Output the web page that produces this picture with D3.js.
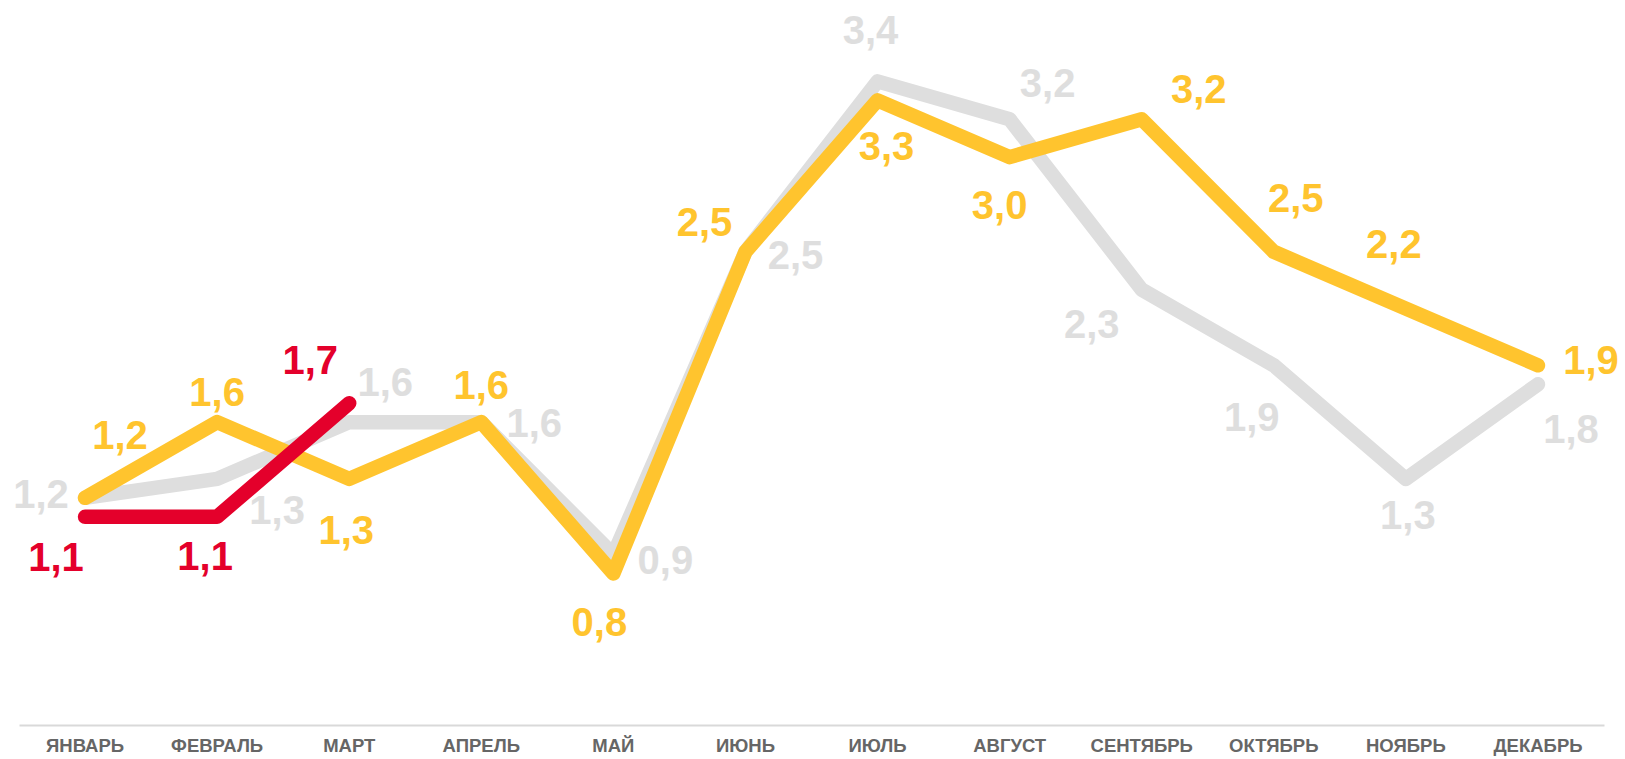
<!DOCTYPE html>
<html>
<head>
<meta charset="utf-8">
<script src="https://cdn.jsdelivr.net/npm/d3@7"></script>
<style>
    body { margin: 0; background: #fff; }
    #chart-area { width: 1625px; height: 759px; }
    .axis text { font-family: "Liberation Sans", Arial, sans-serif; font-weight: bold; }
    .label { font-family: "Liberation Sans", Arial, sans-serif; font-weight: bold; }
</style>
</head>
<body>
<div id="chart-area"></div>
<script>

// months on the x axis
let months = ["ЯНВАРЬ", "ФЕВРАЛЬ", "МАРТ", "АПРЕЛЬ", "МАЙ", "ИЮНЬ",
    "ИЮЛЬ", "АВГУСТ", "СЕНТЯБРЬ", "ОКТЯБРЬ", "НОЯБРЬ", "ДЕКАБРЬ"];

// series values
let greyValues = [1.2, 1.3, 1.6, 1.6, 0.9, 2.5, 3.4, 3.2, 2.3, 1.9, 1.3, 1.8];
let yellowValues = [1.2, 1.6, 1.3, 1.6, 0.8, 2.5, 3.3, 3.0, 3.2, 2.5, 2.2, 1.9];
let redValues = [1.1, 1.1, 1.7];

// where each value label sits relative to its point (dx, dy)
let greyLabelPos = [[-44, -2], [60, 33], [36, -38], [53, 3], [52, 7], [50, 5],
    [-7, -49], [38, -34], [-50, 36], [-22, 54], [2, 38], [33, 47]];
let yellowLabelPos = [[35, -61], [0, -28], [-3, 53], [0, -35], [-14, 50], [-41, -28],
    [9, 48], [-10, 50], [57, -28], [22, -52], [-12, -63], [53, -3]];
let redLabelPos = [[-29, 42], [-12, 41], [-39, -41]];


class LineVis {

    constructor(_parentElement) {
        this.parentElement = _parentElement;
        this.initVis();
    }

    initVis() {
        let vis = this;

        vis.width = 1625;
        vis.height = 759;

        vis.svg = d3.select("#" + vis.parentElement).append("svg")
            .attr("width", vis.width)
            .attr("height", vis.height);

        // scales
        vis.x = d3.scaleBand()
            .domain(months)
            .range([19, 1604]);

        vis.y = d3.scaleLinear()
            .domain([0, 3.83])
            .range([725, 0]);

        vis.xAxis = d3.axisBottom(vis.x)
            .tickSize(0)
            .tickSizeOuter(0)
            .tickPadding(14);

        let axisG = vis.svg.append("g")
            .attr("class", "x-axis axis")
            .attr("transform", "translate(0," + vis.y(0) + ")")
            .call(vis.xAxis);

        axisG.select(".domain")
            .attr("stroke", "#d9d9d9")
            .attr("stroke-width", 2);

        axisG.selectAll("text")
            .attr("fill", "#666666")
            .style("font-size", "18.5px");

        vis.line = d3.line()
            .x((d, i) => vis.x(months[i]) + vis.x.bandwidth() / 2)
            .y(d => vis.y(d));

        vis.updateVis();
    }

    drawSeries(values, color, labelPos, cls) {
        let vis = this;

        vis.svg.append("path")
            .datum(values)
            .attr("class", "line " + cls)
            .attr("d", vis.line)
            .attr("fill", "none")
            .attr("stroke", color)
            .attr("stroke-width", 14.5)
            .attr("stroke-linecap", "round")
            .attr("stroke-linejoin", "round");

        vis.svg.selectAll("text.label." + cls)
            .data(values)
            .enter()
            .append("text")
            .attr("class", "label " + cls)
            .attr("x", (d, i) => vis.x(months[i]) + vis.x.bandwidth() / 2 + labelPos[i][0])
            .attr("y", (d, i) => vis.y(d) + labelPos[i][1])
            .attr("text-anchor", "middle")
            .attr("dy", "0.3em")
            .attr("fill", color)
            .style("font-size", "40px")
            .text(d => d3.format(".1f")(d).replace(".", ","));
    }

    updateVis() {
        let vis = this;

        vis.drawSeries(greyValues, "#dedede", greyLabelPos, "grey");
        vis.drawSeries(yellowValues, "#ffc42e", yellowLabelPos, "yellow");
        vis.drawSeries(redValues, "#e4002b", redLabelPos, "red");
    }
}

let lineVis = new LineVis("chart-area");

</script>
</body>
</html>
